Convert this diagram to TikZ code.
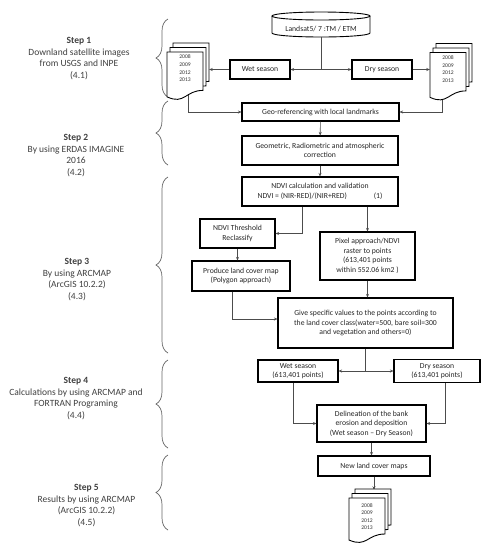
\documentclass[tikz,border=0pt]{standalone}
\usepackage{fontspec}
\setmainfont{Carlito}
\usetikzlibrary{arrows.meta,decorations.pathreplacing,calc}
\newcommand\docstk[3]{%
  \foreach \k in {2,1,0}{%
    \begin{scope}[shift={(#1+3*\k,#2-4.5*\k)}]
      \path[docline] (0,0) -- (36,0) -- (36,{0.8*#3}) .. controls (18,{0.8*#3}) and (18,{1.107*#3}) .. (0,{0.934*#3}) -- cycle;
    \end{scope}}}
\begin{document}
\begin{tikzpicture}[x=1pt,y=-1pt,
  box/.style={draw=black, line width=1.1pt, fill=white, inner sep=1pt, align=center, font=\fontsize{7.7}{9.5}\selectfont, text=black!85},
  conn/.style={draw=black!70, line width=0.6pt},
  arr/.style={conn, -{Stealth[length=3.5pt,width=3pt]}},
  stepbrace/.style={draw=black!60, line width=0.7pt, decorate, decoration={brace, amplitude=12pt}},
  steptxt/.style={align=center, font=\fontsize{9.5}{11.7}\selectfont, text=black!75},
  docline/.style={draw=black, line width=0.9pt, fill=white},
  yeartxt/.style={align=center, font=\fontsize{5.6}{7.6}\selectfont, text=black!80, inner sep=0},
  ghost/.style={inner sep=0, draw=none}
]
\useasboundingbox[fill=white] (0,0) rectangle (490,550);

% step texts
\node[steptxt] (s1) at (79,58.5) {\textbf{Step 1}\\Downland satellite images\\from USGS and INPE\\(4.1)};
\node[steptxt] (s2) at (76,155.5) {\textbf{Step 2}\\By using ERDAS IMAGINE\\2016\\(4.2)};
\node[steptxt] (s3) at (77,279.5) {\textbf{Step 3}\\By using ARCMAP\\(ArcGIS 10.2.2)\\(4.3)};
\node[steptxt] (s4) at (76,398.5) {\textbf{Step 4}\\Calculations by using ARCMAP and\\FORTRAN Programing\\(4.4)};
\node[steptxt] (s5) at (86.5,505.5) {\textbf{Step 5}\\Results by using ARCMAP\\(ArcGIS 10.2.2)\\(4.5)};

% braces
\draw[stepbrace] (168,97) -- (168,19);
\draw[stepbrace] (168,165) -- (168,101);
\draw[stepbrace] (168,353) -- (168,177);
\draw[stepbrace] (168,448) -- (168,360);
\draw[stepbrace] (168,530) -- (168,455);

% cylinder
\draw[docline] (272,16) -- (272,33) arc[start angle=180, end angle=0, x radius=49, y radius=4] -- (370,16);
\draw[docline] (321,16) ellipse[x radius=49, y radius=4];
\node[ghost, font=\fontsize{7.7}{9.5}\selectfont, text=black!85] (ls) at (321,29) {Landsat5/ 7 :TM / ETM};
\coordinate (lsb) at (321,37);
\coordinate (j1) at (321,69.5);

% ghost doc nodes
\node[ghost, minimum width=42, minimum height=54] (docL) at (188,70) {};
\node[ghost, minimum width=42, minimum height=54] (docR) at (451,70.5) {};
\node[ghost, minimum width=42, minimum height=50] (docB) at (370,515) {};

% boxes
\node[box, minimum width=60, minimum height=19] (wet) at (260,69.5) {Wet season};
\node[box, minimum width=60, minimum height=19] (dry) at (382,69.5) {Dry season};
\node[box, minimum width=157, minimum height=18] (geo) at (320.5,112) {Geo-referencing with local landmarks};
\node[box, minimum width=156, minimum height=29] (geom) at (320,150.5) {Geometric, Radiometric and atmospheric\\correction};
\node[box, minimum width=156, minimum height=29] (ndvi) at (320,191.5) {NDVI calculation and validation\\NDVI = (NIR-RED)/(NIR+RED)\hspace{27pt}(1)};
\node[box, minimum width=75, minimum height=29] (thr) at (237.5,233.5) {NDVI Threshold\\Reclassify};
\node[box, minimum width=98, minimum height=30] (prod) at (241,276) {Produce land cover map\\(Polygon approach)};
\node[box, minimum width=95, minimum height=48] (pix) at (367.5,256) {Pixel approach/NDVI\\raster to points\\(613,401 points\\within 552.06 km2 )};
\node[box, minimum width=175, minimum height=50] (give) at (365.5,323) {Give specific values to the points according to\\the land cover class(water=500, bare soil=300\\and vegetation and others=0)};
\node[box, minimum width=80, minimum height=22] (wet2) at (298,371) {Wet season\\(613,401 points)};
\node[box, minimum width=86, minimum height=23] (dry2) at (437,371) {Dry season\\(613,401 points)};
\node[box, minimum width=109, minimum height=37] (del) at (371.5,423.5) {Delineation of the bank\\erosion and deposition\\(Wet season -- Dry Season)};
\node[box, minimum width=112, minimum height=20] (new) at (374,466) {New land cover maps};

% connectors
\draw[conn] (lsb) -- (j1);
\draw[arr] (j1) -- (wet);
\draw[arr] (j1) -- (dry);
\draw[arr] (wet) -- (wet.west -| docL.east);
\draw[arr] (dry) -- (dry.east -| docR.west);
\draw[arr] (docL.center) |- (geo);
\draw[arr] ([xshift=-9pt]docR.center) |- (geo);
\draw[arr] (geo) -- (geom);
\draw[arr] (geom) -- (ndvi);
\draw[arr] ([xshift=-18pt]ndvi.south) |- (thr);
\draw[arr] (ndvi.south -| pix.north) -- (pix.north);
\draw[arr] (thr.south) -- (thr.south |- prod.north);
\draw[arr] (pix.south) -- (pix.south |- give.north);
\draw[arr] ([xshift=-9pt]prod.south) |- ([yshift=4pt]give.west);
\coordinate (j2) at (give.south |- wet2.east);
\draw[conn] (give.south) -- (j2);
\draw[arr] (j2) -- (wet2);
\draw[arr] (j2) -- (dry2);
\draw[arr] ([xshift=-5pt]wet2.south) |- (del);
\draw[arr] ([xshift=8pt]dry2.south) |- (del);
\draw[arr] (del.south) -- (del.south |- new.north);
\draw[arr] (new.south) -- (new.south |- docB.north);

% document stacks
\docstk{167}{52}{48}
\docstk{430}{52.5}{48}
\docstk{349}{498}{45}
\node[yeartxt] (yrL) at (185,68.5) {2008\\2009\\2012\\2013};
\node[yeartxt] (yrR) at (448,69) {2008\\2009\\2012\\2013};
\node[yeartxt] (yrB) at (367,516.5) {2008\\2009\\2012\\2013};
\end{tikzpicture}
\end{document}
